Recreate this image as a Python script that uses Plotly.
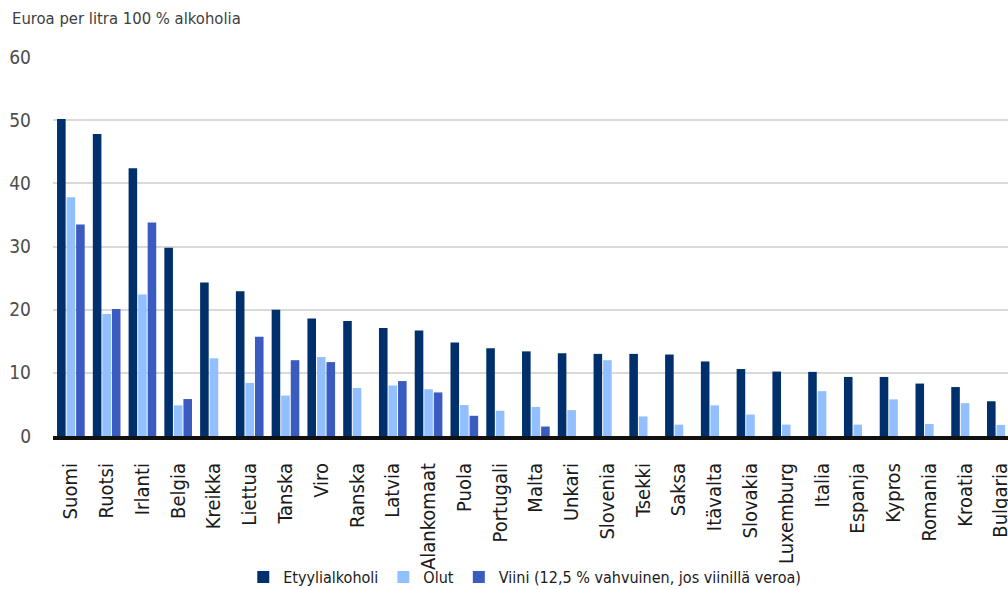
import plotly.graph_objects as go

# Maat ja verotaso (euroa per litra 100 % alkoholia)
countries = ["Suomi", "Ruotsi", "Irlanti", "Belgia", "Kreikka", "Liettua", "Tanska", "Viro",
             "Ranska", "Latvia", "Alankomaat", "Puola", "Portugali", "Malta", "Unkari",
             "Slovenia", "Tsekki", "Saksa", "Itävalta", "Slovakia", "Luxemburg", "Italia",
             "Espanja", "Kypros", "Romania", "Kroatia", "Bulgaria"]

etyylialkoholi = [50.2, 47.8, 42.4, 29.8, 24.3, 22.9, 20.0, 18.6,
                  18.2, 17.1, 16.7, 14.8, 13.9, 13.4, 13.1,
                  13.0, 13.0, 12.9, 11.8, 10.6, 10.2, 10.15,
                  9.35, 9.35, 8.3, 7.75, 5.5]

olut = [37.8, 19.3, 22.4, 4.85, 12.3, 8.4, 6.4, 12.5,
        7.6, 8.0, 7.4, 4.9, 4.0, 4.6, 4.1,
        12.0, 3.1, 1.8, 4.85, 3.4, 1.8, 7.1,
        1.8, 5.8, 1.9, 5.2, 1.75]

viini = [33.5, 20.1, 33.8, 5.85, None, 15.7, 12.0, 11.7,
         None, 8.7, 6.9, 3.2, None, 1.5, None,
         None, None, None, None, None, None, None,
         None, None, None, None, None]

series = [
    ("Etyylialkoholi", etyylialkoholi, "#00306b"),
    ("Olut", olut, "#92bfff"),
    ("Viini (12,5 % vahvuinen, jos viinillä veroa)", viini, "#3a5bbf"),
]

FONT = "DejaVu Sans Condensed, DejaVu Sans, sans-serif"


def cfont(size, color):
    return dict(family=FONT, size=size, color=color)


fig = go.Figure()
for name, values, color in series:
    fig.add_trace(go.Bar(
        x=countries, y=values, name=name,
        marker=dict(color=color, line=dict(width=0)),
    ))

fig.update_layout(
    width=1008, height=589,
    margin=dict(l=53, r=0, t=57, b=153, autoexpand=False),
    paper_bgcolor="white", plot_bgcolor="white",
    barmode="group", bargap=0.2, bargroupgap=0.1,
    font=cfont(16, "#262626"),
    legend=dict(
        orientation="h", x=0.494, xanchor="center", y=-0.372, yanchor="middle",
        font=cfont(16, "#1a1a1a"), itemwidth=30,
        bgcolor="rgba(0,0,0,0)",
        traceorder="normal",
    ),
    showlegend=True,
)

fig.update_xaxes(
    range=[-0.5, 26.2], automargin=False,
    tickangle=-90, tickfont=cfont(20, "#1a1a1a"),
    ticks="", ticklabelstandoff=15,
    showline=True, linecolor="#111111", linewidth=4,
    showgrid=False,
)

fig.update_yaxes(
    range=[0, 60], dtick=10, automargin=False,
    tickfont=cfont(19, "#4d4d4d"),
    ticklabelstandoff=21,
    showgrid=True, gridcolor="#d9d9d9", gridwidth=2,
    zeroline=False, showline=False,
)

fig.add_annotation(
    text="Euroa per litra 100 % alkoholia",
    xref="paper", yref="paper", x=-43 / 955, y=1 + 50 / 379,
    xanchor="left", yanchor="top", showarrow=False,
    font=cfont(16.5, "#404040"),
)

fig.write_html("out.html")
